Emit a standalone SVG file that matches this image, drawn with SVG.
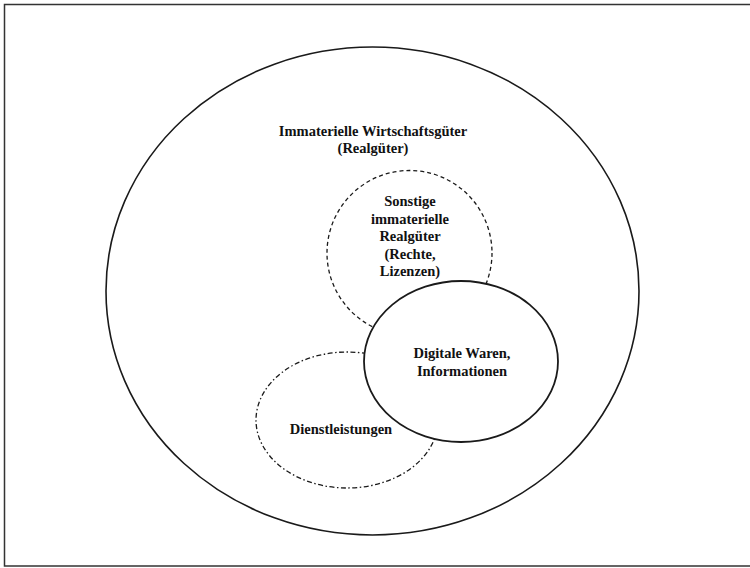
<svg xmlns="http://www.w3.org/2000/svg" width="750" height="568" viewBox="0 0 750 568">
<style>
  .solid { fill: none; stroke: #1a1a1a; stroke-width: 1.6; }
  .frame { fill: none; stroke: #333; stroke-width: 1.5; }
  .dashed { fill: none; stroke: #1a1a1a; stroke-width: 1.3; stroke-dasharray: 4 3; }
  .dashdot { fill: none; stroke: #1a1a1a; stroke-width: 1.3; stroke-dasharray: 5 2.5 1.5 2.5; }
  .lbl { font-family: "Liberation Serif", "Times New Roman", serif; font-weight: bold; font-size: 14.5px; fill: #111; text-anchor: middle; }
</style>
<rect x="0" y="0" width="750" height="568" fill="#fff"/>
<g id="frame">
  <polyline class="frame" points="750,4.5 4.5,4.5 4.5,566 750,566"/>
</g>
<g id="immaterielle">
  <ellipse class="solid" cx="372.5" cy="291" rx="266.5" ry="244"/>
  <text class="lbl" x="373" y="136">Immaterielle Wirtschaftsgüter</text>
  <text class="lbl" x="373" y="153">(Realgüter)</text>
</g>
<g id="sonstige">
  <circle class="dashed" cx="409.5" cy="253" r="82.5"/>
  <text class="lbl" x="410" y="206">Sonstige</text>
  <text class="lbl" x="410" y="223.5">immaterielle</text>
  <text class="lbl" x="410" y="241">Realgüter</text>
  <text class="lbl" x="410" y="258.5">(Rechte,</text>
  <text class="lbl" x="410" y="276">Lizenzen)</text>
</g>
<g id="dienstleistungen">
  <ellipse class="dashdot" cx="347" cy="420" rx="91" ry="68"/>
  <text class="lbl" x="341" y="434">Dienstleistungen</text>
</g>
<g id="digitale">
  <ellipse cx="461" cy="361.5" rx="97" ry="80.5" fill="#fff" stroke="#1a1a1a" stroke-width="1.8"/>
  <text class="lbl" x="462" y="358">Digitale Waren,</text>
  <text class="lbl" x="462" y="376">Informationen</text>
</g>
<g id="connectors"></g>
</svg>
